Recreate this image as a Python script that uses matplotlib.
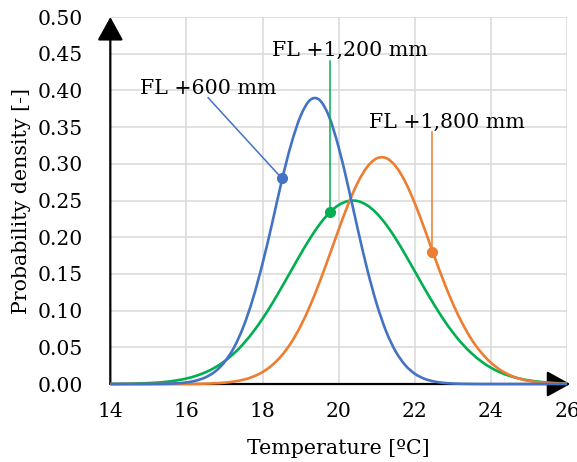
import matplotlib
matplotlib.use("Agg")
import matplotlib.pyplot as plt
from matplotlib.path import Path
from matplotlib.patches import PathPatch

plt.rcParams['font.family'] = ['DejaVu Serif']

# ---- data ----
temperature = [14.0, 14.25, 14.5, 14.75, 15.0, 15.25, 15.5, 15.75, 16.0, 16.25, 16.5, 16.75,
               17.0, 17.25, 17.5, 17.75, 18.0, 18.25, 18.5, 18.75, 19.0, 19.25, 19.5, 19.75,
               20.0, 20.25, 20.5, 20.75, 21.0, 21.25, 21.5, 21.75, 22.0, 22.25, 22.5, 22.75,
               23.0, 23.25, 23.5, 23.75, 24.0, 24.25, 24.5, 24.75, 25.0, 25.25, 25.5, 25.75, 26.0]

fl600 = [0.0, 0.0, 0.0, 0.0, 0.0001, 0.0002, 0.0004, 0.0010, 0.0022, 0.0046, 0.0091, 0.0169,
         0.0299, 0.0498, 0.0785, 0.1169, 0.1644, 0.2186, 0.2760, 0.3265, 0.3653, 0.3870, 0.3868, 0.3639,
         0.3223, 0.2688, 0.2111, 0.1562, 0.1088, 0.0713, 0.0441, 0.0256, 0.0140, 0.0072, 0.0035, 0.0016,
         0.0007, 0.0003, 0.0001, 0.0, 0.0, 0.0, 0.0, 0.0, 0.0, 0.0, 0.0, 0.0, 0.0]

fl1200 = [0.0001, 0.0003, 0.0004, 0.0008, 0.0013, 0.0020, 0.0032, 0.0050, 0.0075, 0.0111, 0.0160, 0.0225,
          0.0311, 0.0418, 0.0551, 0.0709, 0.0891, 0.1095, 0.1316, 0.1544, 0.1771, 0.1986, 0.2176, 0.2330,
          0.2438, 0.2493, 0.2492, 0.2434, 0.2324, 0.2169, 0.1978, 0.1762, 0.1535, 0.1306, 0.1087, 0.0883,
          0.0702, 0.0545, 0.0414, 0.0307, 0.0222, 0.0157, 0.0109, 0.0074, 0.0049, 0.0032, 0.0020, 0.0012, 0.0007]

fl1800 = [0.0, 0.0, 0.0, 0.0, 0.0, 0.0, 0.0, 0.0001, 0.0001, 0.0002, 0.0005, 0.0010,
          0.0018, 0.0034, 0.0059, 0.0100, 0.0163, 0.0256, 0.0387, 0.0563, 0.0791, 0.1069, 0.1391, 0.1744,
          0.2105, 0.2449, 0.2743, 0.2959, 0.3074, 0.3077, 0.2965, 0.2753, 0.2461, 0.2120, 0.1758, 0.1410,
          0.1095, 0.0825, 0.0600, 0.0425, 0.0290, 0.0190, 0.0120, 0.0072, 0.0042, 0.0024, 0.0013, 0.0007, 0.0003]

series_names = ['FL +600 mm', 'FL +1,200 mm', 'FL +1,800 mm']
series_colors = ['#4472C4', '#00B050', '#ED7D31']
marker_x = [18.51, 19.76, 22.44]
marker_y = [0.280, 0.2345, 0.1800]
leader_x = [16.57, 19.76, 22.44]
leader_y = [0.390, 0.440, 0.344]
label_x = [16.57, 20.30, 22.85]
label_y = [0.403, 0.455, 0.357]

x_ticks = [14, 16, 18, 20, 22, 24, 26]
y_ticks = [0.00, 0.05, 0.10, 0.15, 0.20, 0.25, 0.30, 0.35, 0.40, 0.45, 0.50]


def smooth_path(xs, ys):
    """Excel-style smoothed line: Catmull-Rom segments as cubic Bezier curves."""
    n = len(xs)
    verts = [(xs[0], ys[0])]
    codes = [Path.MOVETO]
    for i in range(n - 1):
        x0, y0 = (xs[i - 1], ys[i - 1]) if i > 0 else (xs[i], ys[i])
        x1, y1 = xs[i], ys[i]
        x2, y2 = xs[i + 1], ys[i + 1]
        x3, y3 = (xs[i + 2], ys[i + 2]) if i + 2 < n else (x2, y2)
        c1 = (x1 + (x2 - x0) / 6.0, y1 + (y2 - y0) / 6.0)
        c2 = (x2 - (x3 - x1) / 6.0, y2 - (y3 - y1) / 6.0)
        verts += [c1, c2, (x2, y2)]
        codes += [Path.CURVE4, Path.CURVE4, Path.CURVE4]
    return Path(verts, codes)


# ---- figure ----
fig = plt.figure(figsize=(5.77, 4.62), dpi=100)
ax = fig.add_axes([0.1912, 0.1688, 0.7916, 0.7944])

ax.set_xlim(14, 26)
ax.set_ylim(0, 0.5)
ax.set_xticks(x_ticks)
ax.set_yticks(y_ticks)
ax.set_yticklabels([f"{v:.2f}" for v in y_ticks])
ax.grid(True, color='#d9d9d9', linewidth=1.1)
ax.set_axisbelow(True)
for s in ax.spines.values():
    s.set_visible(False)
ax.tick_params(axis='both', length=0, labelsize=14.6, colors='black')
ax.tick_params(axis='y', pad=19.5)
ax.tick_params(axis='x', pad=13)

ax.set_xlabel('Temperature [ºC]', fontsize=14.8, labelpad=13)
ax.set_ylabel('Probability density [-]', fontsize=14.8, labelpad=5)

# curves (draw order: green, orange, blue)
series = {0: fl600, 1: fl1200, 2: fl1800}
for i in [1, 2, 0]:
    patch = PathPatch(smooth_path(temperature, series[i]), facecolor='none',
                      edgecolor=series_colors[i], linewidth=1.9, zorder=3,
                      transform=ax.transData, clip_on=False)
    ax.add_patch(patch)

# axis arrows
ax.annotate('', xy=(0, 1.0), xytext=(0, 0), xycoords='axes fraction',
            arrowprops=dict(arrowstyle='-|>,head_length=1.0,head_width=0.55', color='black',
                            lw=1.6, shrinkA=0, shrinkB=0, mutation_scale=14.5), zorder=2)
ax.annotate('', xy=(1.007, 0), xytext=(0, 0), xycoords='axes fraction',
            arrowprops=dict(arrowstyle='-|>,head_length=1.0,head_width=0.55', color='black',
                            lw=1.6, shrinkA=0, shrinkB=0, mutation_scale=14.5), zorder=2)

# labels with leader lines and markers
for i in range(3):
    ax.plot([leader_x[i], marker_x[i]], [leader_y[i], marker_y[i]], color=series_colors[i],
            linewidth=1.1, zorder=4)
    ax.plot([marker_x[i]], [marker_y[i]], 'o', color=series_colors[i], markersize=7, zorder=5)
    ax.text(label_x[i], label_y[i], series_names[i], fontsize=14.8, ha='center', va='center',
            zorder=6)

fig.savefig('out.png', dpi=100)
